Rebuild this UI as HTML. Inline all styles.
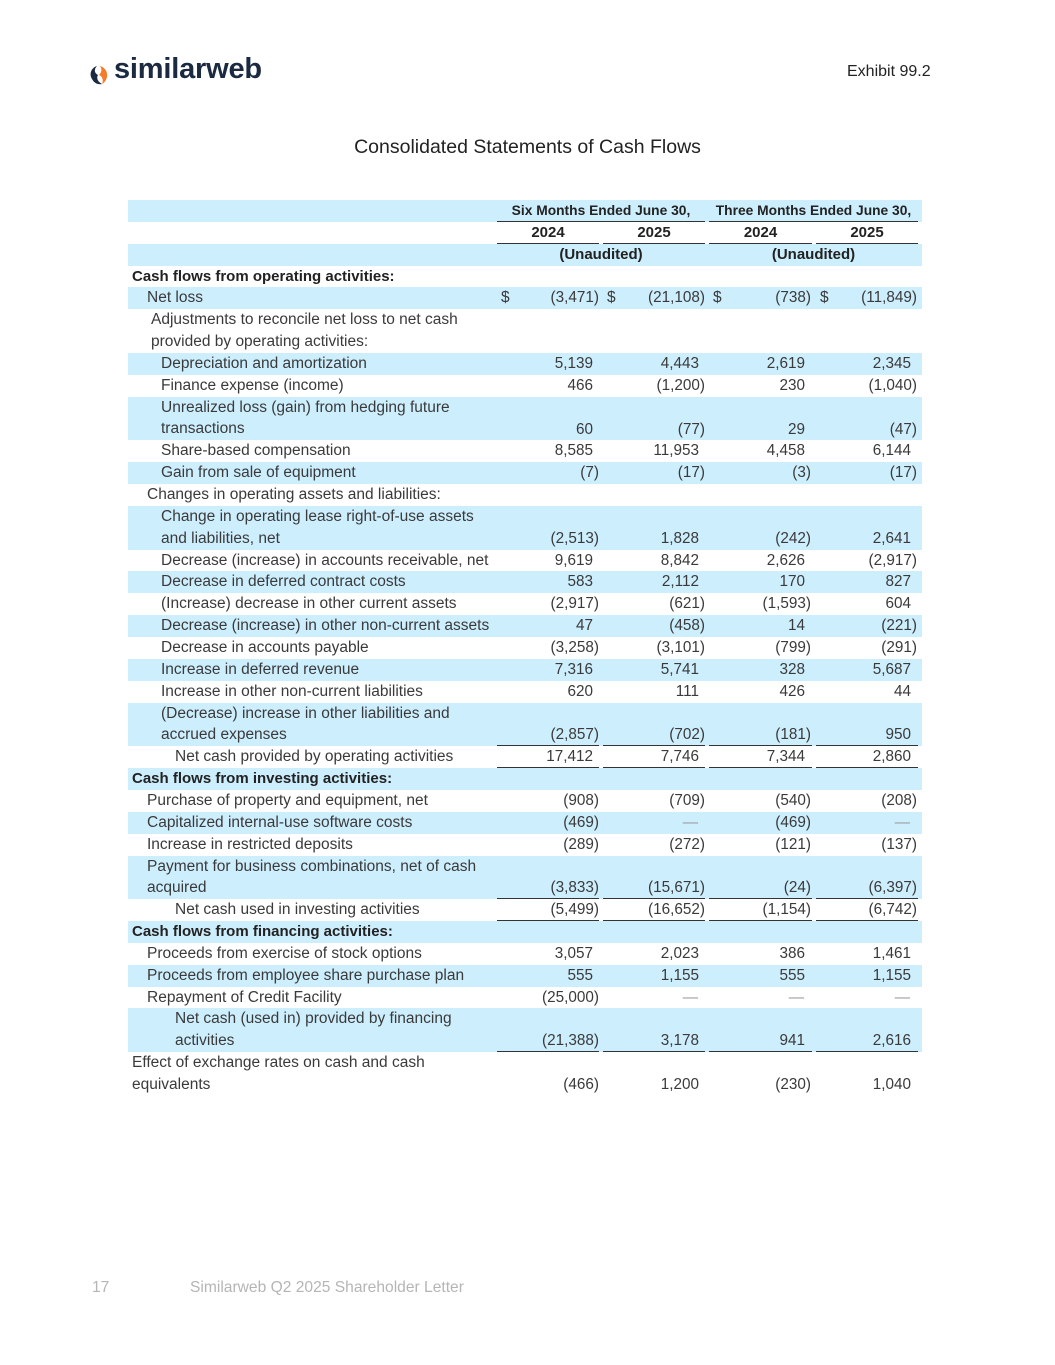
<!DOCTYPE html>
<html><head><meta charset="utf-8">
<style>
body{margin:0;background:#fff;}
#page{position:relative;width:1055px;height:1365px;overflow:hidden;font-family:"Liberation Sans",Arial,sans-serif;color:#3a3a3a;}
.abs{position:absolute;white-space:nowrap;}
.row{position:absolute;left:128px;width:794px;}
.blue{background:#cdeefd;}
.lbl{position:absolute;font-size:15.5px;line-height:21.85px;white-space:nowrap;}
.num{position:absolute;font-size:15.3px;line-height:21.85px;text-align:right;white-space:nowrap;}
.ul{position:absolute;height:1px;background:#333;}
.hd{position:absolute;font-size:13.8px;font-weight:bold;line-height:21.85px;color:#222;text-align:center;white-space:nowrap;}
</style></head><body>
<div id="page">
  <div class="abs" style="left:88px;top:56px;height:34px;">
    <svg width="22" height="22" viewBox="0 0 22 22" style="position:absolute;left:0;top:8px">
      <path d="M9 2 C3 4 1 10 4 15 C6 19 10 21 14 20 C10 18 8 14 10 11 C6 9 6 5 9 2Z" fill="#1b2a41"/>
      <path d="M12 2 C16 3 20 7 19 13 C18 17 16 19 14 20 C16 16 14 12 11 11 C14 8 14 5 12 2Z" fill="#f57c2a"/>
    </svg>
    <span style="position:absolute;left:26px;top:-3px;font-size:29px;font-weight:bold;color:#1b2a41;letter-spacing:-0.2px;">similarweb</span>
  </div>
  <div class="abs" style="left:847px;top:63px;font-size:16px;color:#222;">Exhibit 99.2</div>
  <div class="abs" style="left:0;width:1055px;text-align:center;top:136px;font-size:19.5px;color:#222;">Consolidated Statements of Cash Flows</div>
  <div id="tbl"></div>
  <div class="abs" style="left:92px;top:1279px;font-size:15.6px;color:#b5b5b5;">17</div>
  <div class="abs" style="left:190px;top:1279px;font-size:15.6px;color:#b5b5b5;">Similarweb Q2 2025 Shareholder Letter</div>
</div>
<script>
const labels=[
"Cash flows from operating activities:","Net loss","Adjustments to reconcile net loss to net cash|provided by operating activities:","Depreciation and amortization","Finance expense (income)","Unrealized loss (gain) from hedging future|transactions","Share-based compensation","Gain from sale of equipment","Changes in operating assets and liabilities:","Change in operating lease right-of-use assets|and liabilities, net","Decrease (increase) in accounts receivable, net","Decrease in deferred contract costs","(Increase) decrease in other current assets","Decrease (increase) in other non-current assets","Decrease in accounts payable","Increase in deferred revenue","Increase in other non-current liabilities","(Decrease) increase in other liabilities and|accrued expenses","Net cash provided by operating activities","Cash flows from investing activities:","Purchase of property and equipment, net","Capitalized internal-use software costs","Increase in restricted deposits","Payment for business combinations, net of cash|acquired","Net cash used in investing activities","Cash flows from financing activities:","Proceeds from exercise of stock options","Proceeds from employee share purchase plan","Repayment of Credit Facility","Net cash (used in) provided by financing|activities","Effect of exchange rates on cash and cash|equivalents"];
const indents=[4,19,23,33,33,33,33,33,19,33,33,33,33,33,33,33,33,33,47,4,19,19,19,19,47,4,19,19,19,47,4];
const six2024=["","(3,471)","","5,139","466","60","8,585","(7)","","(2,513)","9,619","583","(2,917)","47","(3,258)","7,316","620","(2,857)","17,412","","(908)","(469)","(289)","(3,833)","(5,499)","","3,057","555","(25,000)","(21,388)","(466)"];
const six2025=["","(21,108)","","4,443","(1,200)","(77)","11,953","(17)","","1,828","8,842","2,112","(621)","(458)","(3,101)","5,741","111","(702)","7,746","","(709)","—","(272)","(15,671)","(16,652)","","2,023","1,155","—","3,178","1,200"];
const three2024=["","(738)","","2,619","230","29","4,458","(3)","","(242)","2,626","170","(1,593)","14","(799)","328","426","(181)","7,344","","(540)","(469)","(121)","(24)","(1,154)","","386","555","—","941","(230)"];
const three2025=["","(11,849)","","2,345","(1,040)","(47)","6,144","(17)","","2,641","(2,917)","827","604","(221)","(291)","5,687","44","950","2,860","","(208)","—","(137)","(6,397)","(6,742)","","1,461","1,155","—","2,616","1,040"];
const boldRows=[0,19,25];
const underlineRows=[17,18,23,24,29];
const LH=21.85, T=200;
const colRight=[599,705,811,917];
const ulSeg=[[497,599],[603,705],[709,812],[816,918]];
function add(el){document.getElementById('page').appendChild(el);return el;}
let hy=[T,T+LH,T+2*LH];
[0,2].forEach(i=>{const r=document.createElement('div');r.className='row blue';r.style.top=hy[i]+'px';r.style.height=LH+'px';

add(r);});
const heads=[["Six Months Ended June 30,",497,705,0],["Three Months Ended June 30,",709,918,0],["2024",497,599,1],["2025",603,705,1],["2024",709,812,1],["2025",816,918,1],["(Unaudited)",497,705,2],["(Unaudited)",709,918,2]];
heads.forEach(h=>{const d=document.createElement('div');d.className='hd';d.textContent=h[0];d.style.left=h[1]+'px';d.style.width=(h[2]-h[1])+'px';d.style.top=hy[h[3]]+'px';
if(h[3]>0)d.style.fontSize='15px';

add(d);
if(h[3]<2){const u=document.createElement('div');u.className='ul';u.style.left=h[1]+'px';u.style.width=(h[2]-h[1])+'px';u.style.top=(hy[h[3]]+LH-1)+'px';

add(u);}});
let y=T+3*LH;
labels.forEach((lab,i)=>{
 const lines=lab.split('|');const h=lines.length*LH;
 const r=document.createElement('div');r.className='row'+((i+3)%2==0?' blue':'');r.style.top=y+'px';r.style.height=h+'px';
 
 add(r);
 const l=document.createElement('div');l.className='lbl';l.innerHTML=lines.join('<br>');l.style.left=(128+indents[i])+'px';l.style.top=y+'px';
 if(boldRows.includes(i)){l.style.fontWeight='bold';l.style.color='#222';l.style.fontSize='15px';}
 
 add(l);
 const vy=y+h-LH;
 [six2024,six2025,three2024,three2025].forEach((arr,c)=>{
  const v=arr[i];if(!v)return;
  const n=document.createElement('div');n.className='num';n.textContent=v;
  const paren=v.endsWith(')');const dash=v=='—';
  n.style.right=(1055-colRight[c]+(paren?0:(dash?7:6)))+'px';n.style.top=vy+'px';
  if(dash)n.style.color='#999';
  
  add(n);
 });
 if(i==1){[501,607,713,820].forEach(x=>{const d=document.createElement('div');d.className='lbl';d.textContent='$';d.style.left=x+'px';d.style.top=vy+'px';
  
  add(d);});}
 if(underlineRows.includes(i)){ulSeg.forEach(s=>{const u=document.createElement('div');u.className='ul';u.style.left=s[0]+'px';u.style.width=(s[1]-s[0])+'px';u.style.top=(y+h-1)+'px';
  
  add(u);});}
 y+=h;
});
</script>
</body></html>
